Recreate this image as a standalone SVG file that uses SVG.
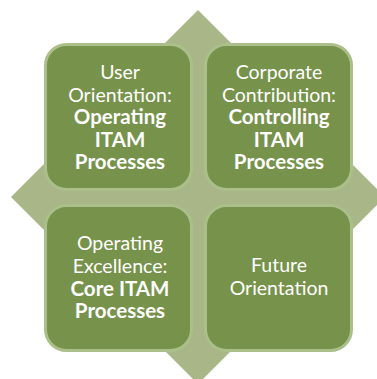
<svg xmlns="http://www.w3.org/2000/svg" width="377" height="379" viewBox="0 0 377 379">
  <style>
    .backdrop { fill: #a9b788; }
    .tile { fill: #77924b; stroke: #abbf8b; stroke-width: 3; }
    .label { font-family: "Lato", "Liberation Sans", sans-serif; font-size: 19.5px; fill: #ffffff; text-anchor: middle; }
    .strong { font-weight: bold; font-size: 20.5px; }
  </style>
  <rect width="377" height="379" fill="#ffffff"/>

  <!-- diamond behind the matrix -->
  <polygon class="backdrop" points="198,10 385,197 198,384 11,197"/>

  <g id="user-orientation">
    <rect class="tile" x="45.5" y="44.5" width="146" height="145" rx="21" ry="21"/>
    <text class="label" x="120" y="78.5">User</text>
    <text class="label" x="120" y="101.5">Orientation:</text>
    <text class="label strong" x="120" y="124">Operating</text>
    <text class="label strong" x="120" y="146.5">ITAM</text>
    <text class="label strong" x="120" y="169">Processes</text>
  </g>

  <g id="corporate-contribution">
    <rect class="tile" x="205.5" y="44.5" width="146" height="145" rx="21" ry="21"/>
    <text class="label" x="279" y="78.5">Corporate</text>
    <text class="label" x="279" y="101.5">Contribution:</text>
    <text class="label strong" x="279" y="124">Controlling</text>
    <text class="label strong" x="279" y="146.5">ITAM</text>
    <text class="label strong" x="279" y="169">Processes</text>
  </g>

  <g id="operating-excellence">
    <rect class="tile" x="45.5" y="205.5" width="146" height="145" rx="21" ry="21"/>
    <text class="label" x="120" y="249.5">Operating</text>
    <text class="label" x="120" y="272.5">Excellence:</text>
    <text class="label strong" x="120" y="295.5">Core ITAM</text>
    <text class="label strong" x="120" y="318">Processes</text>
  </g>

  <g id="future-orientation">
    <rect class="tile" x="205.5" y="205.5" width="146" height="145" rx="21" ry="21"/>
    <text class="label" x="279" y="272">Future</text>
    <text class="label" x="279" y="294.5">Orientation</text>
  </g>

  <g id="connectors"/>
</svg>
